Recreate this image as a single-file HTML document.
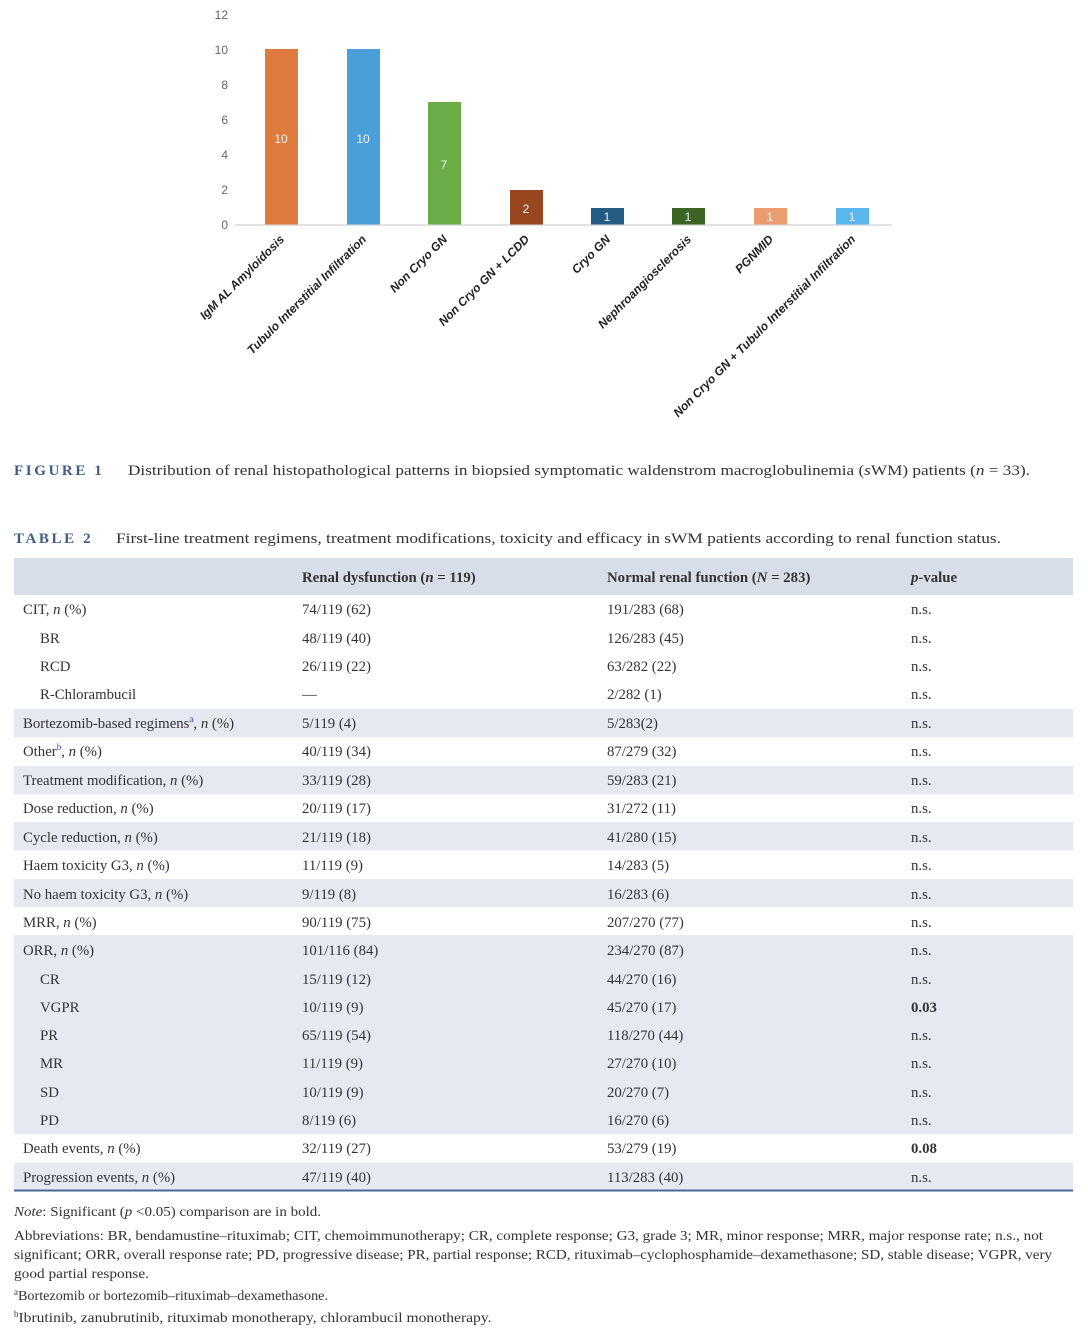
<!DOCTYPE html>
<html><head><meta charset="utf-8"><style>html,body{margin:0;padding:0;background:#fff}svg{display:block}</style></head>
<body>
<svg width="1088" height="1338" viewBox="0 0 1088 1338" xmlns="http://www.w3.org/2000/svg">
<g font-family="Liberation Sans, sans-serif" font-size="12" fill="#666" text-anchor="end">
<text x="228" y="19">12</text><text x="228" y="54">10</text><text x="228" y="89">8</text><text x="228" y="124">6</text><text x="228" y="159">4</text><text x="228" y="194">2</text><text x="228" y="229">0</text>
</g>
<line x1="235" y1="225" x2="892" y2="225" stroke="#d9d9d9" stroke-width="1.5"/>
<g>
<rect x="265" y="49" width="33" height="175.5" fill="#e07b3f"/>
<rect x="347" y="49" width="33" height="175.5" fill="#4a9fd8"/>
<rect x="428" y="102" width="33" height="122.5" fill="#6aac45"/>
<rect x="510" y="190" width="33" height="34.5" fill="#97461f"/>
<rect x="591" y="208" width="33" height="16.5" fill="#245c84"/>
<rect x="672" y="208" width="33" height="16.5" fill="#3c6424"/>
<rect x="754" y="208" width="33" height="16.5" fill="#eb9d70"/>
<rect x="836" y="208" width="33" height="16.5" fill="#5bb8ec"/>
</g>
<g font-family="Liberation Sans, sans-serif" font-size="12" fill="#f4f4f4" text-anchor="middle">
<text x="281" y="143">10</text><text x="363" y="143">10</text><text x="444" y="169">7</text><text x="526" y="213">2</text><text x="607" y="221">1</text><text x="688" y="221">1</text><text x="770" y="221">1</text><text x="852" y="221">1</text>
</g>
<g font-family="Liberation Sans, sans-serif" font-size="12" font-weight="bold" font-style="italic" fill="#222" text-anchor="end">
<text transform="translate(285,240) rotate(-45)">IgM AL Amyloidosis</text>
<text transform="translate(367,240) rotate(-45)">Tubulo Interstitial Infiltration</text>
<text transform="translate(448,240) rotate(-45)">Non Cryo GN</text>
<text transform="translate(530,240) rotate(-45)">Non Cryo GN + LCDD</text>
<text transform="translate(611,240) rotate(-45)">Cryo GN</text>
<text transform="translate(692,240) rotate(-45)">Nephroangiosclerosis</text>
<text transform="translate(774,240) rotate(-45)">PGNMID</text>
<text transform="translate(856,240) rotate(-45)">Non Cryo GN + Tubulo Interstitial Infiltration</text>
</g>
<g font-family="Liberation Serif, serif" font-size="15" fill="#333">
<text x="14" y="475" font-weight="bold" fill="#3e5c85" letter-spacing="2.6">FIGURE 1</text>
<text x="128" y="475" textLength="902" lengthAdjust="spacingAndGlyphs">Distribution of renal histopathological patterns in biopsied symptomatic waldenstrom macroglobulinemia (<tspan font-style="italic">s</tspan>WM) patients (<tspan font-style="italic">n</tspan> = 33).</text>
<text x="14" y="543" font-weight="bold" fill="#3e5c85" letter-spacing="2.6">TABLE 2</text>
<text x="116" y="543" textLength="885" lengthAdjust="spacingAndGlyphs">First-line treatment regimens, treatment modifications, toxicity and efficacy in sWM patients according to renal function status.</text>
</g>
<rect x="14" y="558" width="1059" height="37" fill="#d8dee8"/>
<g fill="#e6e9f1">
<rect x="14" y="709" width="1059" height="28.4"/>
<rect x="14" y="766" width="1059" height="28.4"/>
<rect x="14" y="822" width="1059" height="28.4"/>
<rect x="14" y="879" width="1059" height="28.4"/>
<rect x="14" y="935" width="1059" height="199"/>
<rect x="14" y="1163" width="1059" height="27"/>
</g>
<line x1="14" y1="1190.5" x2="1073" y2="1190.5" stroke="#4a6a96" stroke-width="2"/>
<g font-family="Liberation Serif, serif" font-size="14.8" fill="#333">
<g font-weight="bold"><text x="302" y="582">Renal dysfunction (<tspan font-style="italic">n</tspan> = 119)</text><text x="607" y="582">Normal renal function (<tspan font-style="italic">N</tspan> = 283)</text><text x="911" y="582"><tspan font-style="italic">p</tspan>-value</text></g>
<text x="23" y="614">CIT, <tspan font-style="italic">n</tspan> (%)</text><text x="302" y="614">74/119 (62)</text><text x="607" y="614">191/283 (68)</text><text x="911" y="614">n.s.</text>
<text x="40" y="643">BR</text><text x="302" y="643">48/119 (40)</text><text x="607" y="643">126/283 (45)</text><text x="911" y="643">n.s.</text>
<text x="40" y="671">RCD</text><text x="302" y="671">26/119 (22)</text><text x="607" y="671">63/282 (22)</text><text x="911" y="671">n.s.</text>
<text x="40" y="699">R-Chlorambucil</text><text x="302" y="699">—</text><text x="607" y="699">2/282 (1)</text><text x="911" y="699">n.s.</text>
<text x="23" y="728">Bortezomib-based regimens<tspan font-size="9" dy="-6" fill="#3344cc">a</tspan><tspan dy="6">, </tspan><tspan font-style="italic">n</tspan> (%)</text><text x="302" y="728">5/119 (4)</text><text x="607" y="728">5/283(2)</text><text x="911" y="728">n.s.</text>
<text x="23" y="756">Other<tspan font-size="9" dy="-6" fill="#3344cc">b</tspan><tspan dy="6">, </tspan><tspan font-style="italic">n</tspan> (%)</text><text x="302" y="756">40/119 (34)</text><text x="607" y="756">87/279 (32)</text><text x="911" y="756">n.s.</text>
<text x="23" y="785">Treatment modification, <tspan font-style="italic">n</tspan> (%)</text><text x="302" y="785">33/119 (28)</text><text x="607" y="785">59/283 (21)</text><text x="911" y="785">n.s.</text>
<text x="23" y="813">Dose reduction, <tspan font-style="italic">n</tspan> (%)</text><text x="302" y="813">20/119 (17)</text><text x="607" y="813">31/272 (11)</text><text x="911" y="813">n.s.</text>
<text x="23" y="842">Cycle reduction, <tspan font-style="italic">n</tspan> (%)</text><text x="302" y="842">21/119 (18)</text><text x="607" y="842">41/280 (15)</text><text x="911" y="842">n.s.</text>
<text x="23" y="870">Haem toxicity G3, <tspan font-style="italic">n</tspan> (%)</text><text x="302" y="870">11/119 (9)</text><text x="607" y="870">14/283 (5)</text><text x="911" y="870">n.s.</text>
<text x="23" y="899">No haem toxicity G3, <tspan font-style="italic">n</tspan> (%)</text><text x="302" y="899">9/119 (8)</text><text x="607" y="899">16/283 (6)</text><text x="911" y="899">n.s.</text>
<text x="23" y="927">MRR, <tspan font-style="italic">n</tspan> (%)</text><text x="302" y="927">90/119 (75)</text><text x="607" y="927">207/270 (77)</text><text x="911" y="927">n.s.</text>
<text x="23" y="955">ORR, <tspan font-style="italic">n</tspan> (%)</text><text x="302" y="955">101/116 (84)</text><text x="607" y="955">234/270 (87)</text><text x="911" y="955">n.s.</text>
<text x="40" y="984">CR</text><text x="302" y="984">15/119 (12)</text><text x="607" y="984">44/270 (16)</text><text x="911" y="984">n.s.</text>
<text x="40" y="1012">VGPR</text><text x="302" y="1012">10/119 (9)</text><text x="607" y="1012">45/270 (17)</text><text x="911" y="1012" font-weight="bold">0.03</text>
<text x="40" y="1040">PR</text><text x="302" y="1040">65/119 (54)</text><text x="607" y="1040">118/270 (44)</text><text x="911" y="1040">n.s.</text>
<text x="40" y="1068">MR</text><text x="302" y="1068">11/119 (9)</text><text x="607" y="1068">27/270 (10)</text><text x="911" y="1068">n.s.</text>
<text x="40" y="1097">SD</text><text x="302" y="1097">10/119 (9)</text><text x="607" y="1097">20/270 (7)</text><text x="911" y="1097">n.s.</text>
<text x="40" y="1125">PD</text><text x="302" y="1125">8/119 (6)</text><text x="607" y="1125">16/270 (6)</text><text x="911" y="1125">n.s.</text>
<text x="23" y="1153">Death events, <tspan font-style="italic">n</tspan> (%)</text><text x="302" y="1153">32/119 (27)</text><text x="607" y="1153">53/279 (19)</text><text x="911" y="1153" font-weight="bold">0.08</text>
<text x="23" y="1182">Progression events, <tspan font-style="italic">n</tspan> (%)</text><text x="302" y="1182">47/119 (40)</text><text x="607" y="1182">113/283 (40)</text><text x="911" y="1182">n.s.</text>
</g>
<g font-family="Liberation Serif, serif" font-size="13.5" fill="#333">
<text x="14" y="1216" textLength="307" lengthAdjust="spacingAndGlyphs"><tspan font-style="italic">Note</tspan>: Significant (<tspan font-style="italic">p</tspan> &lt;0.05) comparison are in bold.</text>
<text x="14" y="1240" textLength="1029" lengthAdjust="spacingAndGlyphs">Abbreviations: BR, bendamustine–rituximab; CIT, chemoimmunotherapy; CR, complete response; G3, grade 3; MR, minor response; MRR, major response rate; n.s., not</text>
<text x="14" y="1259" textLength="1038" lengthAdjust="spacingAndGlyphs">significant; ORR, overall response rate; PD, progressive disease; PR, partial response; RCD, rituximab–cyclophosphamide–dexamethasone; SD, stable disease; VGPR, very</text>
<text x="14" y="1278" textLength="135" lengthAdjust="spacingAndGlyphs">good partial response.</text>
<text x="14" y="1300"><tspan font-size="9" dy="-5">a</tspan><tspan dy="5" textLength="310" lengthAdjust="spacingAndGlyphs">Bortezomib or bortezomib–rituximab–dexamethasone.</tspan></text>
<text x="14" y="1322"><tspan font-size="9" dy="-5">b</tspan><tspan dy="5" textLength="473" lengthAdjust="spacingAndGlyphs">Ibrutinib, zanubrutinib, rituximab monotherapy, chlorambucil monotherapy.</tspan></text>
</g>
</svg>
</body></html>
